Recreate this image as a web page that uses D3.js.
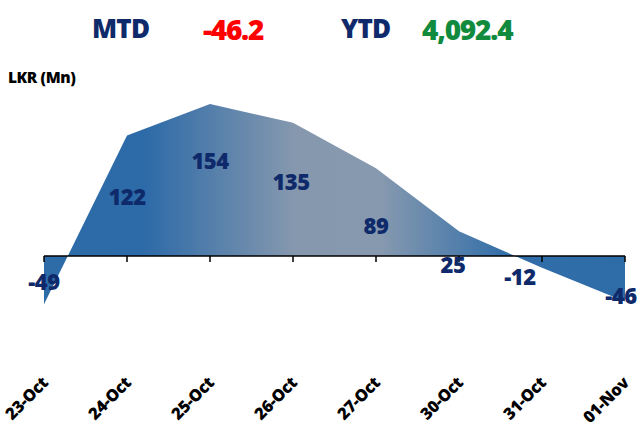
<!DOCTYPE html>
<html>
<head>
<meta charset="utf-8">
<script src="https://cdn.jsdelivr.net/npm/d3@7"></script>
<style>
	body { margin: 0; background: #fff; }
	.c-svg { width: 638px; height: 423px; }
	text { font-family: "Open Sans", Lato, sans-serif; font-weight: 800; }
</style>
</head>
<body>
<div class="c-svg"></div>
<script>
//DATA
//-------------------------------------------------------------------------
const days = ["23-Oct", "24-Oct", "25-Oct", "26-Oct", "27-Oct", "30-Oct", "31-Oct", "01-Nov"];
const flows = [-49, 122, 154, 135, 89, 25, -12, -46];
//where each data label sits, in LKR Mn (labels were placed by hand in the source)
const labelAt = [-26, 60, 96, 75, 30, -9, -21, -41];
const labelShift = [0, 0, 0, -2, 0, -6, -22, -4];

const summary = [
	{ text: "MTD", value: "-46.2", valueColor: "#ff0000" },
	{ text: "YTD", value: "4,092.4", valueColor: "#108a3c" }
];
const unitLabel = "LKR (Mn)";

//opts for svg
const opts = {
	container: ".c-svg",
	width: 638,
	height: 423
};

const navy = "#0f2a6a";

//INITIALISATION
//-------------------------------------------------------------------------
const svg = d3.select(opts.container)
	.append("svg")
	.attr("width", opts.width)
	.attr("height", opts.height);

//scales
const x = d3.scalePoint()
	.domain(days)
	.range([44, 625]);

const y = d3.scaleLinear()
	.domain([-100, 200])
	.range([354.7, 58.6]);

//gradient fill
const grad = svg.append("defs")
	.append("linearGradient")
	.attr("id", "areaGrad")
	.attr("gradientUnits", "userSpaceOnUse")
	.attr("x1", x(days[0])).attr("x2", x(days[days.length - 1]))
	.attr("y1", 0).attr("y2", 0);

[[0, "#2e6ca8"], [0.17, "#2c6aa8"], [0.43, "#8598ae"], [0.58, "#8699af"], [0.8, "#316ea9"], [1, "#2e6ca8"]]
	.forEach(s => grad.append("stop").attr("offset", s[0]).attr("stop-color", s[1]));

//area
const area = d3.area()
	.x((d, i) => x(days[i]))
	.y0(y(0))
	.y1(d => y(d));

svg.append("path")
	.datum(flows)
	.attr("d", area)
	.style("fill", "url(#areaGrad)");

//axis
const axis = svg.append("g")
	.attr("transform", `translate(0 ${y(0)})`);

axis.append("line")
	.attr("x1", x(days[0])).attr("x2", x(days[days.length - 1]))
	.style("stroke", "#000")
	.style("stroke-width", 1.5);

axis.selectAll(".tick")
	.data(days)
	.join("line")
	.attr("class", "tick")
	.attr("x1", d => x(d)).attr("x2", d => x(d))
	.attr("y1", 0).attr("y2", 6)
	.style("stroke", "#000")
	.style("stroke-width", 1.5);

svg.selectAll(".day")
	.data(days)
	.join("text")
	.attr("class", "day")
	.attr("transform", d => `translate(${x(d) + 5} 384) rotate(-45)`)
	.attr("text-anchor", "end")
	.style("font-size", "16.5px")
	.style("letter-spacing", "-0.4px")
	.style("fill", "#000")
	.text(d => d);

//data labels
svg.selectAll(".lbl")
	.data(flows)
	.join("text")
	.attr("class", "lbl")
	.attr("x", (d, i) => x(days[i]) + labelShift[i])
	.attr("y", (d, i) => y(labelAt[i]))
	.attr("dy", "0.36em")
	.attr("text-anchor", "middle")
	.style("font-size", "22px")
	.style("letter-spacing", "-0.5px")
	.style("fill", navy)
	.text(d => d);

//header
const headX = [[92, 203], [341, 422]];
summary.forEach((s, i) => {
	svg.append("text")
		.attr("x", headX[i][0]).attr("y", 38)
		.style("font-size", "26px")
		.style("letter-spacing", "-0.8px")
		.style("fill", navy)
		.text(s.text);
	svg.append("text")
		.attr("x", headX[i][1]).attr("y", 40)
		.style("font-size", "28px")
		.style("letter-spacing", "-1.2px")
		.style("fill", s.valueColor)
		.text(s.value);
});

svg.append("text")
	.attr("x", 8).attr("y", 83)
	.style("font-size", "15.5px")
	.style("letter-spacing", "-0.4px")
	.style("fill", "#000")
	.text(unitLabel);
</script>
</body>
</html>
